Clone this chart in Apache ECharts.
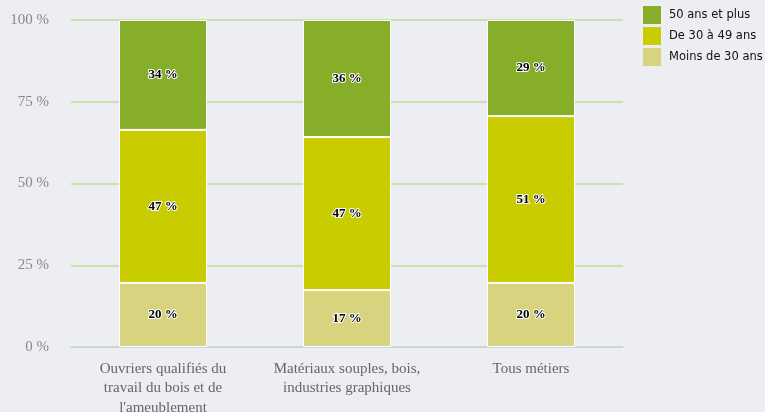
<!DOCTYPE html>
<html><head><meta charset="utf-8">
<script src="https://cdn.jsdelivr.net/npm/echarts@6/dist/echarts.min.js"></script>
<style>html,body{margin:0;padding:0;background:#eceef1;}#c{width:765px;height:412px;}</style>
</head><body><div id="c"></div>
<script>
const categories = ["Ouvriers qualifiés du\ntravail du bois et de\nl'ameublement", "Matériaux souples, bois,\nindustries graphiques", "Tous métiers"];
const seriesNames = ["Moins de 30 ans", "De 30 à 49 ans", "50 ans et plus"];
const moins30 = [19.6, 17.4, 19.6];
const de30a49 = [46.8, 46.8, 51.0];
const plus50 = [33.6, 35.8, 29.4];
const yTicks = [0, 25, 50, 75, 100];
const colors = ["#d8d37f", "#c8cc00", "#87ae28"];

const chart = echarts.init(document.getElementById('c'));
const label = {
  show: true, position: 'inside',
  formatter: p => Math.round(p.value) + ' %',
  fontFamily: 'Liberation Serif', fontWeight: 'bold', fontSize: 13,
  color: '#000', textBorderColor: '#fff', textBorderWidth: 2
};
const mk = (name, data, i) => ({
  name, type: 'bar', stack: 'a', data, barWidth: 88,
  itemStyle: { color: colors[i], borderColor: '#fff', borderWidth: 1 },
  label
});
chart.setOption({
  backgroundColor: '#eceef1',
  animation: false,
  legend: {
    orient: 'vertical', left: 643, top: 6, padding: 0, itemWidth: 18, itemHeight: 18, itemGap: 3,
    icon: 'rect',
    itemStyle: { borderWidth: 0 },
    data: [seriesNames[2], seriesNames[1], seriesNames[0]],
    textStyle: { fontFamily: 'DejaVu Sans', fontSize: 11.5, color: '#111', padding: [0, 0, 0, 3] }
  },
  grid: { left: 71, right: 142, top: 20, bottom: 65, outerBoundsMode: 'none', containLabel: false },
  xAxis: {
    type: 'category', data: categories,
    axisLine: { lineStyle: { color: '#c5d3e6' } },
    axisTick: { show: false },
    axisLabel: { fontFamily: 'Liberation Serif', fontSize: 15, color: '#666', lineHeight: 19.5, margin: 12, interval: 0 }
  },
  yAxis: {
    type: 'value', min: 0, max: 100, interval: 25,
    axisLabel: { formatter: v => yTicks.includes(v) ? v + ' %' : '', fontFamily: 'Liberation Serif', fontSize: 15, color: '#888', margin: 22 },
    splitLine: { lineStyle: { color: '#cfdfae', width: 2 } },
    axisLine: { show: false }, axisTick: { show: false }
  },
  series: [mk(seriesNames[0], moins30, 0), mk(seriesNames[1], de30a49, 1), mk(seriesNames[2], plus50, 2)]
});
</script></body></html>
